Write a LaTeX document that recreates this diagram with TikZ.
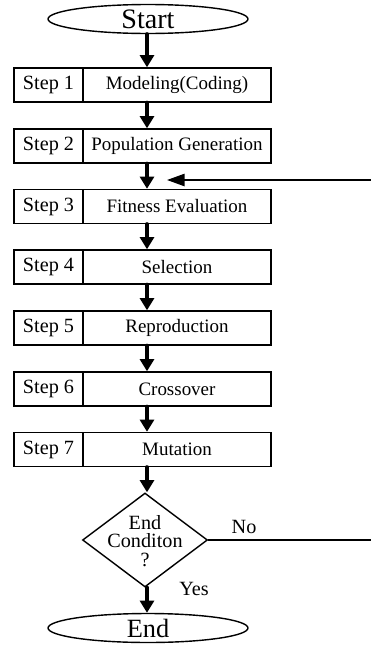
\documentclass[tikz,border=0pt]{standalone}
\usepackage{fontspec}
\setmainfont{Liberation Serif}
\usetikzlibrary{arrows.meta,shapes.geometric}

\tikzset{
  stepcell/.style={draw,line width=0.8pt,inner sep=0pt,minimum width=1.38cm,minimum height=0.68cm,font=\fontsize{11.5}{13}\selectfont},
  taskcell/.style={draw,line width=0.8pt,inner sep=0pt,minimum width=3.76cm,minimum height=0.68cm,font=\fontsize{10.8}{13}\selectfont},
  term/.style={draw,ellipse,line width=0.8pt,inner sep=0pt,minimum width=4cm,minimum height=0.58cm},
  flow/.style={line width=2.3pt,-{Triangle[width=8pt,length=7pt]}},
  back/.style={line width=0.9pt}
}

\begin{document}
\begin{tikzpicture}[line cap=round,x=0.02cm,y=-0.02cm]
            \useasboundingbox (0,0) rectangle (371,646);
            \node[term,font=\fontsize{16}{18}\selectfont] (start) at (148,19) {Start};  %start
            \node[stepcell] (s1) at (48.5,85) {Step 1};
            \node[taskcell] (t1) at (177,85) {Modeling(Coding)};
            \node[stepcell] (s2) at (48.5,146) {Step 2};
            \node[taskcell] (t2) at (177,146) {Population Generation};
            \node[stepcell] (s3) at (48.5,206.5) {Step 3};
            \node[taskcell] (t3) at (177,206.5) {Fitness Evaluation};
            \node[stepcell] (s4) at (48.5,267) {Step 4};
            \node[taskcell] (t4) at (177,267) {Selection};
            \node[stepcell] (s5) at (48.5,328) {Step 5};
            \node[taskcell] (t5) at (177,328) {Reproduction};
            \node[stepcell] (s6) at (48.5,389) {Step 6};
            \node[taskcell] (t6) at (177,389) {Crossover};
            \node[stepcell] (s7) at (48.5,449.5) {Step 7};
            \node[taskcell] (t7) at (177,449.5) {Mutation};
            \node[draw,diamond,line width=0.8pt,inner sep=0pt,minimum width=2.5cm,minimum height=1.88cm] (cond) at (145,540) {};  %test
            \node[align=center,inner sep=0pt,font=\fontsize{11.5}{10.5}\selectfont] (condtext) at (145,541) {End\\Conditon\\?};
            \node[term,font=\fontsize{15}{17}\selectfont] (end) at (148,628) {End};  %end
            \coordinate (fbin) at (371,180);
            \coordinate (fbtip) at (167,180);
            \coordinate (noout) at (371,540);
            \draw[flow] (start.south -| 147,0) -- (t1.north -| 147,0);
            \draw[flow] (t1.south -| 147,0) -- (t2.north -| 147,0);
            \draw[flow] (t2.south -| 147,0) -- (t3.north -| 147,0);
            \draw[flow] (t3.south -| 147,0) -- (t4.north -| 147,0);
            \draw[flow] (t4.south -| 147,0) -- (t5.north -| 147,0);
            \draw[flow] (t5.south -| 147,0) -- (t6.north -| 147,0);
            \draw[flow] (t6.south -| 147,0) -- (t7.north -| 147,0);
            \draw[flow] (t7.south -| 147,0) -- (cond.north -| 147,0);
            \draw[flow] (cond.south -| 147,0) -- (end.north -| 147,0);
            \draw[back,-{Triangle[width=7pt,length=10pt]}] (fbin) -- (fbtip);  % loop back
            \draw[back] (cond.east) -- (noout) node[pos=0.22,above,font=\fontsize{11.5}{13}\selectfont] {No};
            \node[font=\fontsize{11.5}{13}\selectfont] (yes) at (194,589) {Yes};
            \end{tikzpicture}
\end{document}
